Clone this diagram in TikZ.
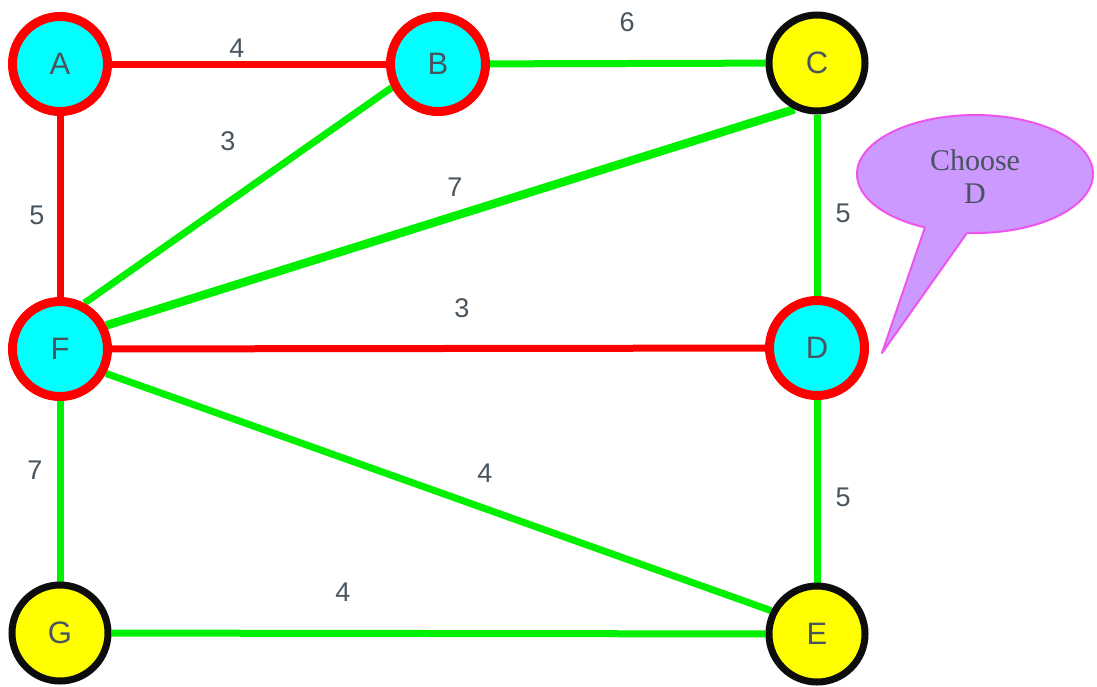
\documentclass[tikz,border=0pt]{standalone}
\usepackage{fontspec}
\setmainfont{Liberation Sans}
\newfontfamily\calloutfont{Liberation Serif}
\usetikzlibrary{backgrounds}
\definecolor{nodecyan}{RGB}{0,255,255}
\definecolor{nodeyellow}{RGB}{255,255,0}
\definecolor{edgered}{RGB}{255,0,0}
\definecolor{edgegreen}{RGB}{0,240,0}
\definecolor{txtgray}{RGB}{72,84,94}
\definecolor{bubblefill}{RGB}{204,153,255}
\definecolor{bubbleline}{RGB}{238,85,238}
\tikzset{
  gnode/.style={circle, inner sep=0pt, text=txtgray, font=\fontsize{31}{33}\selectfont},
  visited/.style={gnode, draw=edgered, fill=nodecyan, line width=9pt, minimum size=95pt},
  unvisited/.style={gnode, draw=black!95, fill=nodeyellow, line width=7pt, minimum size=96pt},
  redge/.style={draw=edgered, line width=7pt},
  gedge/.style={draw=edgegreen, line width=7pt},
  wlabel/.style={text=txtgray, font=\fontsize{27}{29}\selectfont, inner sep=0pt},
}
\begin{document}
\begin{tikzpicture}[x=1pt,y=-1pt]
\useasboundingbox (0,0) rectangle (1097,686);

% nodes
\node[visited]   (A) at (60,64)   {A};
\node[visited]   (B) at (438,64)  {B};
\node[unvisited] (C) at (817,63)  {C};
\node[visited]   (F) at (60,349)  {F};
\node[visited]   (D) at (817,348) {D};
\node[unvisited] (G) at (60,633)  {G};
\node[unvisited] (E) at (817,634) {E};

% edges
\begin{scope}[on background layer]
\fill[white] (0,0) rectangle (1097,686);
\path[redge] (A) -- (B);
\path[redge] (A) -- (F);
\path[redge] (F) -- (D);
\path[gedge] (B) -- (C);
\path[gedge] (B.207) -- (F.62);
\path[gedge, line width=8.5pt] (F.27) -- (C.244);
\path[gedge] (C) -- (D);
\path[gedge] (D) -- (E);
\path[gedge] (F.-28) -- (E.153);
\path[gedge] (F) -- (G);
\path[gedge] (G) -- (E);
\end{scope}

% weights
\node[wlabel] (lab) at (237,48)  {4};
\node[wlabel] (lbc) at (627,22)  {6};
\node[wlabel] (lbf) at (228,141) {3};
\node[wlabel] (lfc) at (455,187) {7};
\node[wlabel] (laf) at (37,215)  {5};
\node[wlabel] (lcd) at (843,213) {5};
\node[wlabel] (lfd) at (462,308) {3};
\node[wlabel] (lfg) at (35,470)  {7};
\node[wlabel] (lfe) at (485,473) {4};
\node[wlabel] (lde) at (843,497) {5};
\node[wlabel] (lge) at (343,592) {4};

% callout bubble
\coordinate (tip) at (882,353);
\coordinate (bl) at (925,227.4);
\coordinate (br) at (967,232.9);
\path[fill=bubblefill, draw=bubbleline, line width=2pt] (975,174) ellipse [x radius=118, y radius=59];
\fill[bubblefill] (tip) -- (bl) -- (926,219) -- (966,224) -- (br) -- cycle;
\draw[bubbleline, line width=2pt, line join=round] (bl) -- (tip) -- (br);
\node[align=center, text=txtgray, font=\calloutfont\fontsize{30}{33}\selectfont, inner sep=0pt] (bubbletext) at (975,177) {Choose\\D};
\end{tikzpicture}
\end{document}
